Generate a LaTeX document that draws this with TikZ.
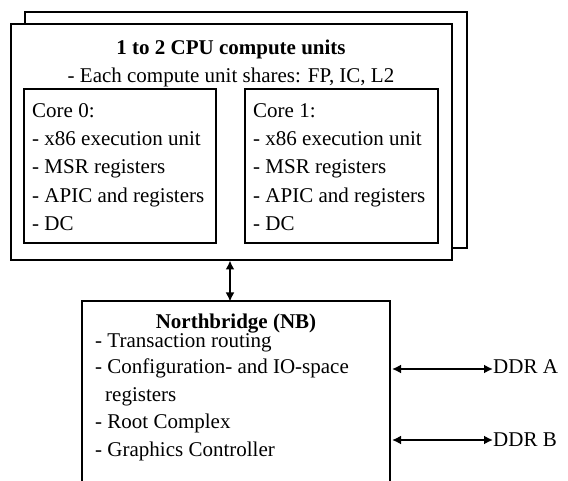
\documentclass[tikz,border=0pt]{standalone}
\usepackage{fontspec}
\setmainfont{Liberation Serif}
\usetikzlibrary{arrows.meta}
\begin{document}
\begin{tikzpicture}[x=1pt,y=-1pt,
  box/.style={draw,line width=1.5pt,rectangle,inner sep=0pt,fill=white},
  txt/.style={font=\fontsize{21}{28.3}\selectfont,inner sep=0pt},
  link/.style={line width=2.4pt,{Latex[length=9pt,width=9pt]}-{Latex[length=9pt,width=9pt]}}]
\useasboundingbox (0,0) rectangle (568,481);
% CPU boxes
\node[box,minimum width=442pt,minimum height=236pt] (back) at (246,130) {};
\node[box,minimum width=441pt,minimum height=236pt] (front) at (231.5,142) {};
\node[txt,anchor=base,font=\fontsize{21}{28.3}\selectfont\bfseries] (title) at (231,55) {1 to 2 CPU compute units};
\node[txt,anchor=base] (sub) at (231,83) {- Each compute unit shares: FP, IC, L2};
\node[box,minimum width=192pt,minimum height=154pt] (core0) at (120,166) {};
\node[box,minimum width=193pt,minimum height=154pt] (core1) at (341.5,166) {};
\node[txt,anchor=north west,align=left] (c0t) at (32,103) {Core 0:\\- x86 execution unit\\- MSR registers\\- APIC and registers\\- DC};
\node[txt,anchor=north west,align=left] (c1t) at (253,103) {Core 1:\\- x86 execution unit\\- MSR registers\\- APIC and registers\\- DC};
% Northbridge
\node[box,minimum width=308pt,minimum height=199pt] (nb) at (236,400.5) {};
\node[txt,anchor=base,font=\fontsize{21}{28.3}\selectfont\bfseries] (nbt) at (236,328.5) {Northbridge (NB)};
\node[txt,anchor=base west] (nb1) at (95,347.5) {- Transaction routing};
\node[txt,anchor=base west] (nb2) at (95,373) {- Configuration- and IO-space};
\node[txt,anchor=base west] (nb3) at (105,401) {registers};
\node[txt,anchor=base west] (nb4) at (95,428) {- Root Complex};
\node[txt,anchor=base west] (nb5) at (95,456) {- Graphics Controller};
% DDR
\node[txt,anchor=west] (ddra) at (493,367) {DDR A};
\node[txt,anchor=west] (ddrb) at (493,440) {DDR B};
\coordinate (ea) at (392,369);
\coordinate (eb) at (392,440);
\draw[link] (ea) -- (ea -| ddra.west);
\draw[link] (eb) -- (eb -| ddrb.west);
\draw[link] (230,260.5) -- (230,301.5);
\end{tikzpicture}
\end{document}
